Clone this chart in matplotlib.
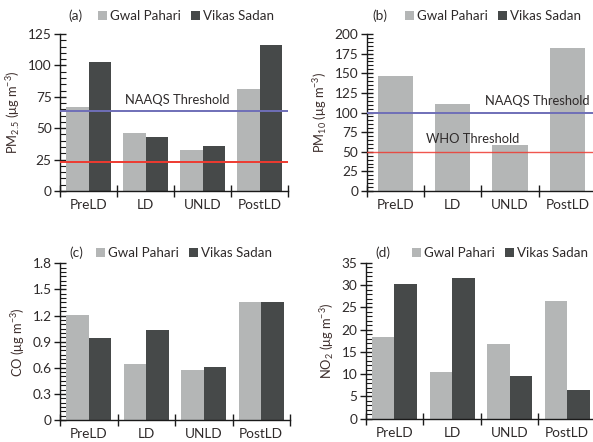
import matplotlib
matplotlib.use("Agg")
import matplotlib.pyplot as plt
from matplotlib.ticker import MultipleLocator, FixedLocator, NullFormatter, FixedFormatter, FuncFormatter
from matplotlib.patches import Patch
import numpy as np

plt.rcParams['font.family'] = ['Lato', 'DejaVu Sans']
plt.rcParams['mathtext.fontset'] = 'custom'
plt.rcParams['mathtext.rm'] = 'Lato'
plt.rcParams['mathtext.it'] = 'Lato:italic'

periods = ["PreLD", "LD", "UNLD", "PostLD"]
sites = ["Gwal Pahari", "Vikas Sadan"]

pm25_gwal = [66.5, 45.9, 32.3, 81.0]
pm25_vikas = [103.0, 43.3, 35.5, 116.0]
pm25_naaqs = 63.5
pm25_who = 23.0

pm10_gwal = [146.0, 111.0, 59.0, 182.0]
pm10_naaqs = 100.0
pm10_who = 50.0

co_gwal = [1.21, 0.64, 0.575, 1.35]
co_vikas = [0.945, 1.03, 0.61, 1.35]

no2_gwal = [18.4, 10.6, 16.7, 26.4]
no2_vikas = [30.2, 31.6, 9.7, 6.4]

GRAY = "#b4b6b6"
DARK = "#464949"
TXT = "#2e2a2a"
LBL = "#3d2e2c"
BLUE = "#6f6fb8"
RED = "#ee3a30"
FS = 9.3

fig = plt.figure(figsize=(5.93, 4.42), dpi=100)
W, H = 593.0, 442.0

def make_ax(left, right, bottom, top):
    return fig.add_axes([left / W, 1 - bottom / H, (right - left) / W, (bottom - top) / H])

ax_a = make_ax(60, 288, 191, 34)
ax_b = make_ax(366.7, 596, 191, 34)
ax_c = make_ax(60, 290, 420, 263.3)
ax_d = make_ax(365.7, 596, 418.7, 263)

x = np.arange(len(periods))
bw = 0.39

def style(ax, ymax, major, minor, fmt, ylabel):
    ax.set_xlim(-0.5, 3.5)
    ax.set_ylim(0, ymax)
    for s in ("top", "right"):
        ax.spines[s].set_visible(False)
    for s in ("left", "bottom"):
        ax.spines[s].set_color("#1a1a1a")
        ax.spines[s].set_linewidth(1.0)
    ax.yaxis.set_major_locator(MultipleLocator(major))
    ax.yaxis.set_minor_locator(MultipleLocator(minor))
    ax.yaxis.set_major_formatter(FuncFormatter(lambda v, p: fmt.format(v)))
    ax.tick_params(axis="y", which="major", direction="inout", length=8, width=1.0,
                   color="#1a1a1a", labelsize=FS + 0.5, labelcolor=TXT, pad=2)
    ax.tick_params(axis="y", which="minor", direction="in", length=4, width=0.8, color="#1a1a1a")
    ax.xaxis.set_major_locator(FixedLocator([-0.5, 0.5, 1.5, 2.5, 3.5]))
    ax.xaxis.set_major_formatter(NullFormatter())
    ax.xaxis.set_minor_locator(FixedLocator(list(x)))
    ax.xaxis.set_minor_formatter(FixedFormatter(periods))
    ax.tick_params(axis="x", which="major", direction="inout", length=9, width=1.0, color="#1a1a1a")
    ax.tick_params(axis="x", which="minor", length=0, labelsize=FS + 0.5, labelcolor=TXT, pad=6)
    ax.set_ylabel(ylabel, fontsize=FS, color=LBL, labelpad=4)

def legend(ax, tag, tag_x, tag_y, leg_x):
    fig.text(tag_x / W, 1 - tag_y / H, tag, fontsize=FS + 0.5, color=TXT, ha="center", va="center")
    handles = [Patch(facecolor=GRAY, edgecolor="none"), Patch(facecolor=DARK, edgecolor="none")]
    fig.legend(handles, sites, loc="center left", bbox_to_anchor=(leg_x / W, 1 - tag_y / H),
               ncol=2, frameon=False, fontsize=FS + 0.3, handlelength=0.65, handleheight=0.65,
               handletextpad=0.25, columnspacing=0.75, borderpad=0, borderaxespad=0,
               labelcolor=TXT)

# (a) PM2.5
ax_a.bar(x - bw / 2, pm25_gwal, bw, color=GRAY, zorder=2)
ax_a.bar(x + bw / 2, pm25_vikas, bw, color=DARK, zorder=2)
ax_a.axhline(pm25_naaqs, color=BLUE, lw=1.4, zorder=3)
ax_a.axhline(pm25_who, color=RED, lw=1.4, zorder=3)
ax_a.text(0.64, 72.5, "NAAQS Threshold", fontsize=FS, color=TXT, va="center", ha="left")
style(ax_a, 125, 25, 5, "{:.0f}", r"PM$_{2.5}$ (μg m$^{-3}$)")
legend(ax_a, "(a)", 75, 16, 98)

# (b) PM10
ax_b.bar(x, pm10_gwal, 0.62, color=GRAY, zorder=2)
ax_b.axhline(pm10_naaqs, color=BLUE, lw=1.4, zorder=3)
ax_b.axhline(pm10_who, color=RED, lw=1.0, alpha=0.85, zorder=3)
ax_b.text(1.56, 114.5, "NAAQS Threshold", fontsize=FS, color=TXT, va="center", ha="left")
ax_b.text(0.53, 66, "WHO Threshold", fontsize=FS, color=TXT, va="center", ha="left")
style(ax_b, 200, 25, 5, "{:.0f}", r"PM$_{10}$ (μg m$^{-3}$)")
legend(ax_b, "(b)", 380, 16, 405)

# (c) CO
ax_c.bar(x - bw / 2, co_gwal, bw, color=GRAY, zorder=2)
ax_c.bar(x + bw / 2, co_vikas, bw, color=DARK, zorder=2)
style(ax_c, 1.8, 0.3, 0.05, "{:g}", r"CO (μg m$^{-3}$)")
legend(ax_c, "(c)", 76, 253, 96)

# (d) NO2
ax_d.bar(x - bw / 2, no2_gwal, bw, color=GRAY, zorder=2)
ax_d.bar(x + bw / 2, no2_vikas, bw, color=DARK, zorder=2)
style(ax_d, 35, 5, 1, "{:.0f}", r"NO$_2$ (μg m$^{-3}$)")
legend(ax_d, "(d)", 383, 253, 412)

fig.savefig("out.png", dpi=100)
